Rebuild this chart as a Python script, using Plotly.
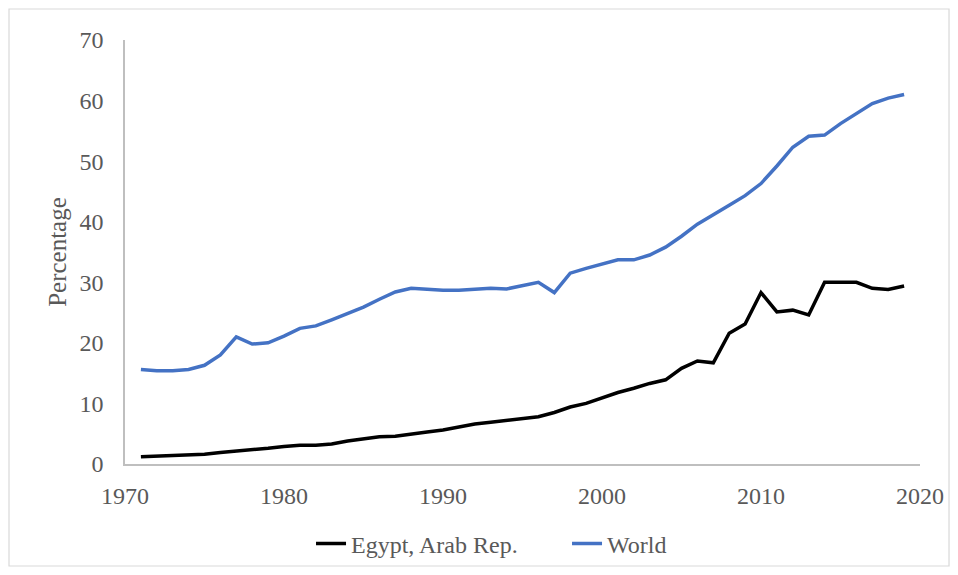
import plotly.graph_objects as go

years = list(range(1971, 2020))

egypt = [1.2, 1.3, 1.5, 1.6, 1.6, 1.9, 2.1, 2.4, 2.6, 2.9,
         3.1, 3.1, 3.3, 3.8, 4.2, 4.5, 4.6, 5.0, 5.3, 5.6,
         6.1, 6.6, 6.9, 7.2, 7.5, 7.8, 8.5, 9.4, 10.0, 10.9,
         11.8, 12.5, 13.3, 13.9, 15.8, 17.0, 16.7, 21.6, 23.1, 28.3,
         25.1, 25.4, 24.6, 30.0, 30.0, 30.0, 29.0, 28.8, 29.4]

world = [15.6, 15.4, 15.4, 15.6, 16.3, 18.0, 21.0, 19.8, 20.0, 21.1,
         22.4, 22.8, 23.8, 24.8, 25.9, 27.2, 28.4, 29.0, 28.8, 28.7,
         28.7, 28.9, 29.0, 28.9, 29.4, 30.0, 28.3, 31.5, 32.3, 33.0,
         33.7, 33.7, 34.5, 35.8, 37.6, 39.6, 41.1, 42.7, 44.3, 46.3,
         49.2, 52.3, 54.1, 54.3, 56.2, 57.9, 59.5, 60.4, 61.0]

x_ticks = [1970, 1980, 1990, 2000, 2010, 2020]
y_ticks = [0, 10, 20, 30, 40, 50, 60, 70]

font_family = "Liberation Serif"
text_grey = "#595959"

fig = go.Figure()
fig.add_trace(go.Scatter(x=years, y=egypt, mode="lines", name="Egypt, Arab Rep.",
                         line=dict(color="#000000", width=3.5)))
fig.add_trace(go.Scatter(x=years, y=world, mode="lines", name="World",
                         line=dict(color="#4472C4", width=3.5)))

fig.update_layout(
    width=958, height=575,
    margin=dict(l=125, r=38, t=40, b=111, autoexpand=False),
    paper_bgcolor="white", plot_bgcolor="white",
    font=dict(family=font_family, size=24, color=text_grey),
    showlegend=True,
    legend=dict(orientation="h", x=0.556, xanchor="center",
                yref="container", y=0.054, yanchor="middle",
                bgcolor="rgba(0,0,0,0)",
                font=dict(family=font_family, size=24, color=text_grey),
                itemwidth=30, entrywidth=211, tracegroupgap=0),
    xaxis=dict(range=[1970, 2020], tickvals=x_ticks, showgrid=False, zeroline=False,
               showline=True, linecolor="#BFBFBF", linewidth=1.5,
               ticks="", ticklabelstandoff=9,
               tickfont=dict(family=font_family, size=24, color=text_grey)),
    yaxis=dict(range=[0, 70], tickvals=y_ticks, showgrid=False, zeroline=False,
               showline=True, linecolor="#BFBFBF", linewidth=1.5,
               ticks="", ticklabelstandoff=15,
               tickfont=dict(family=font_family, size=24, color=text_grey),
               title=dict(text="Percentage", standoff=6,
                          font=dict(family=font_family, size=25, color=text_grey))),
)

# outer chart frame
fig.add_shape(type="rect", xref="paper", yref="paper",
              x0=-0.1459, x1=1.0365, y0=-0.2406, y1=1.0731,
              line=dict(color="#D9D9D9", width=1.2), fillcolor="rgba(0,0,0,0)")

fig.write_html("out.html")
